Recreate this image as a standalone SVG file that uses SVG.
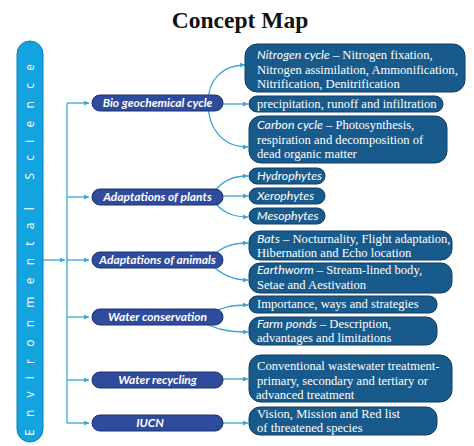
<svg xmlns="http://www.w3.org/2000/svg" width="474" height="446" viewBox="0 0 474 446">
<style>
.title{font-family:"Liberation Serif",serif;font-weight:bold;font-size:23.5px;fill:#111}
.bar{fill:#13A3DF;stroke:#0A7FB5;stroke-width:1}
.bartxt{font-family:"Open Sans",sans-serif;font-size:12px;fill:#fff}
.mid{fill:#2F4B9B;stroke:#1D3275;stroke-width:1}
.midtxt{font-family:Lato,"Liberation Sans",sans-serif;font-weight:bold;font-style:italic;font-size:12px;fill:#fff}
.rn{fill:#195A8C;stroke:#0E3E66;stroke-width:1}
.rt{font-family:"Liberation Serif",serif;font-size:12.6px;fill:#fff}
.it{font-family:Lato,"Liberation Sans",sans-serif;font-style:italic;font-size:12.3px}
.con{fill:none;stroke:#3AA7D2;stroke-width:1.3}
</style>
<defs>
<marker id="ah" viewBox="0 0 6 6" refX="6" refY="3" markerWidth="5" markerHeight="5" orient="auto" markerUnits="userSpaceOnUse">
<path d="M0,0 L6,3 L0,6 Z" fill="#3AA7D2"/>
</marker>
</defs>
<text class="title" x="240" y="28" text-anchor="middle">Concept Map</text>

<g id="connectors">
<path class="con" d="M43 260 H65" marker-end="url(#ah)"/>
<path class="con" d="M67 103 V423"/>
<path class="con" d="M67 103 H89" marker-end="url(#ah)"/>
<path class="con" d="M67 197 H89" marker-end="url(#ah)"/>
<path class="con" d="M67 260 H89" marker-end="url(#ah)"/>
<path class="con" d="M67 317 H89" marker-end="url(#ah)"/>
<path class="con" d="M67 380 H89" marker-end="url(#ah)"/>
<path class="con" d="M67 423 H89" marker-end="url(#ah)"/>
<!-- bio -->
<path class="con" d="M208 103 C208 80 222 65 245 65" marker-end="url(#ah)"/>
<path class="con" d="M220 104 H248" marker-end="url(#ah)"/>
<path class="con" d="M208 103 C208 128 222 147 248 147" marker-end="url(#ah)"/>
<!-- plants -->
<path class="con" d="M212 194 C222 181 232 176 248 176" marker-end="url(#ah)"/>
<path class="con" d="M220 196 H248" marker-end="url(#ah)"/>
<path class="con" d="M212 200 C222 212 232 217 248 217" marker-end="url(#ah)"/>
<!-- animals -->
<path class="con" d="M212 256 C222 247 232 243 248 243" marker-end="url(#ah)"/>
<path class="con" d="M210 263 C220 274 232 280 248 280" marker-end="url(#ah)"/>
<!-- water conservation -->
<path class="con" d="M210 314 C222 307 232 305 248 305" marker-end="url(#ah)"/>
<path class="con" d="M200 320 C215 330 230 332 248 332" marker-end="url(#ah)"/>
<!-- recycling, IUCN -->
<path class="con" d="M220 379 H248" marker-end="url(#ah)"/>
<path class="con" d="M220 423 H248" marker-end="url(#ah)"/>
</g>

<g id="env-science">
<rect class="bar" x="17" y="41" width="26" height="401" rx="13"/>
<text class="bartxt" transform="translate(34,436) rotate(-90)" textLength="372" lengthAdjust="spacing">Environmental  Science</text>
</g>

<g id="bio">
<rect class="mid" x="92" y="95" width="131" height="16" rx="8"/>
<text class="midtxt" x="157.5" y="107" text-anchor="middle">Bio geochemical cycle</text>
</g>
<g id="plants">
<rect class="mid" x="92" y="189" width="131" height="16" rx="8"/>
<text class="midtxt" x="157.5" y="201" text-anchor="middle">Adaptations of plants</text>
</g>
<g id="animals">
<rect class="mid" x="92" y="252" width="131" height="16" rx="8"/>
<text class="midtxt" x="157.5" y="264" text-anchor="middle">Adaptations of animals</text>
</g>
<g id="waterc">
<rect class="mid" x="92" y="309" width="131" height="16" rx="8"/>
<text class="midtxt" x="157.5" y="321" text-anchor="middle">Water conservation</text>
</g>
<g id="waterr">
<rect class="mid" x="92" y="372" width="131" height="16" rx="8"/>
<text class="midtxt" x="157.5" y="384" text-anchor="middle">Water recycling</text>
</g>
<g id="iucn">
<rect class="mid" x="92" y="415" width="131" height="16" rx="8"/>
<text class="midtxt" x="150" y="427" text-anchor="middle">IUCN</text>
</g>

<g id="nitrogen">
<rect class="rn" x="245" y="44" width="220" height="48" rx="12"/>
<text class="rt" x="257" y="59"><tspan class="it">Nitrogen cycle</tspan> – Nitrogen fixation,</text>
<text class="rt" x="257" y="73.5">Nitrogen assimilation, Ammonification,</text>
<text class="rt" x="257" y="88">Nitrification, Denitrification</text>
</g>
<g id="precip">
<rect class="rn" x="249" y="96" width="194" height="16" rx="8"/>
<text class="rt" x="257" y="108">precipitation, runoff and infiltration</text>
</g>
<g id="carbon">
<rect class="rn" x="249" y="116" width="198" height="47" rx="12"/>
<text class="rt" x="257" y="129"><tspan class="it">Carbon cycle</tspan> – Photosynthesis,</text>
<text class="rt" x="257" y="144">respiration and decomposition of</text>
<text class="rt" x="257" y="158">dead organic matter</text>
</g>
<g id="hydro">
<rect class="rn" x="249" y="168" width="76" height="16" rx="8"/>
<text class="rt it" x="257" y="180">Hydrophytes</text>
</g>
<g id="xero">
<rect class="rn" x="249" y="188" width="76" height="16" rx="8"/>
<text class="rt it" x="257" y="200">Xerophytes</text>
</g>
<g id="meso">
<rect class="rn" x="249" y="208" width="76" height="16" rx="8"/>
<text class="rt it" x="257" y="220">Mesophytes</text>
</g>
<g id="bats">
<rect class="rn" x="249" y="231" width="203" height="29" rx="11"/>
<text class="rt" x="257" y="243"><tspan class="it">Bats</tspan> – Nocturnality, Flight adaptation,</text>
<text class="rt" x="257" y="257">Hibernation and Echo location</text>
</g>
<g id="earthworm">
<rect class="rn" x="249" y="263" width="203" height="30" rx="11"/>
<text class="rt" x="257" y="274"><tspan class="it">Earthworm</tspan> – Stream-lined body,</text>
<text class="rt" x="257" y="289">Setae and Aestivation</text>
</g>
<g id="importance">
<rect class="rn" x="249" y="296" width="188" height="17" rx="8"/>
<text class="rt" x="257" y="308">Importance, ways and strategies</text>
</g>
<g id="farm">
<rect class="rn" x="249" y="317" width="188" height="28" rx="11"/>
<text class="rt" x="257" y="328"><tspan class="it">Farm ponds</tspan> – Description,</text>
<text class="rt" x="257" y="342">advantages and limitations</text>
</g>
<g id="conventional">
<rect class="rn" x="249" y="355" width="203" height="47" rx="12"/>
<text class="rt" x="257" y="370">Conventional wastewater treatment-</text>
<text class="rt" x="257" y="384.5">primary, secondary and tertiary or</text>
<text class="rt" x="256" y="399">advanced treatment</text>
</g>
<g id="vision">
<rect class="rn" x="249" y="407" width="188" height="28" rx="11"/>
<text class="rt" x="257" y="418">Vision, Mission and Red list</text>
<text class="rt" x="257" y="432">of threatened species</text>
</g>
</svg>
